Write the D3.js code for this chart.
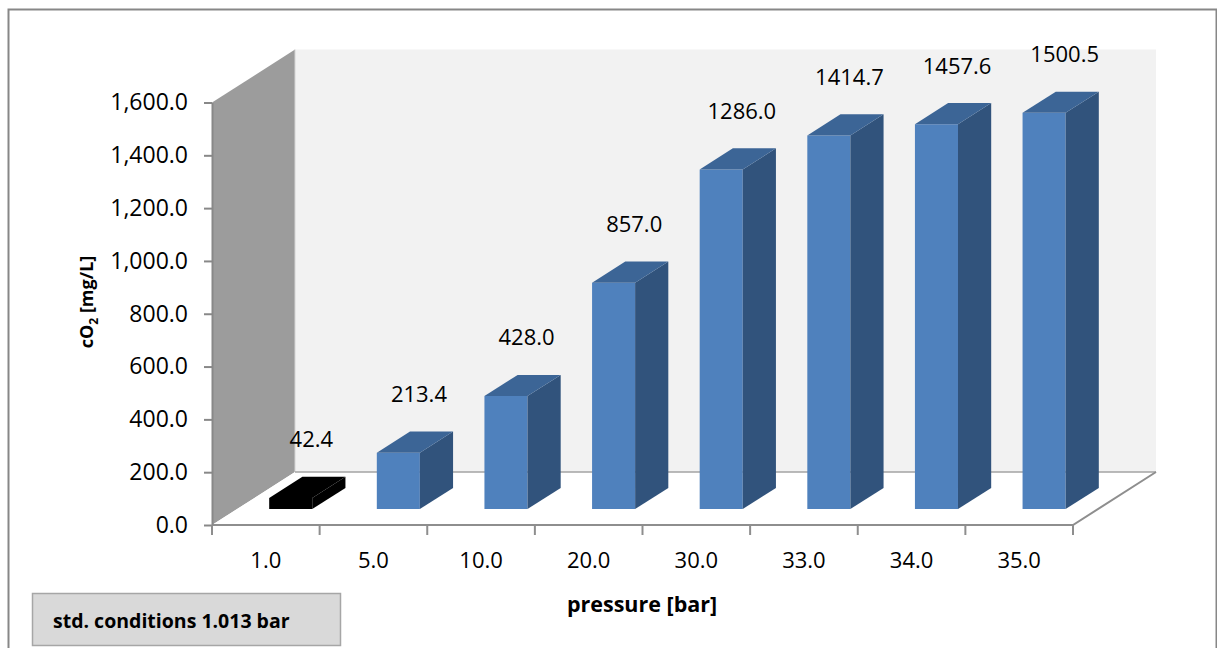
<!DOCTYPE html>
<html>
<head>
<meta charset="utf-8">
<script src="https://cdn.jsdelivr.net/npm/d3@7/dist/d3.min.js"></script>
<style>
  html, body { margin: 0; padding: 0; background: #fff; }
  svg { display: block; font-family: "Open Sans", "Noto Sans", sans-serif; }
</style>
</head>
<body>
<svg id="chart" width="1217" height="648"></svg>
<script>
// CO2 concentration at different pressures
const categories = ["1.0", "5.0", "10.0", "20.0", "30.0", "33.0", "34.0", "35.0"];
const co2Values = [42.4, 213.4, 428.0, 857.0, 1286.0, 1414.7, 1457.6, 1500.5];
const yTicks = [0, 200, 400, 600, 800, 1000, 1200, 1400, 1600];
const referenceCategory = "1.0";   // standard-conditions bar, drawn in black
const noteText = "std. conditions 1.013 bar";

const svg = d3.select("#chart");

// Oblique 3D projection: depth t in [0,1] shifts right and up
const plot = { left: 212, right: 1073, bottom: 525, top: 102.5 };
const depth = { dx: 83, dy: -53 };

const x = d3.scaleBand()
  .domain(categories)
  .range([plot.left, plot.right])
  .paddingInner(0.6)
  .paddingOuter(0.3);

const y = d3.scaleLinear()
  .domain([0, 1600])
  .range([plot.bottom, plot.top]);

const P = (px, v, t) => [px + depth.dx * t, y(v) + depth.dy * t];
const poly = pts => "M" + pts.map(p => p.join(",")).join("L") + "Z";

// Outer chart frame
svg.append("rect")
  .attr("x", 8.5).attr("y", 9.5)
  .attr("width", 1208).attr("height", 700)
  .attr("fill", "#fff")
  .attr("stroke", "#878787").attr("stroke-width", 2);

const [yMin, yMax] = y.domain();

// Back wall
svg.append("path")
  .attr("d", poly([P(plot.left, yMin, 1), P(plot.left, yMax, 1), P(plot.right, yMax, 1), P(plot.right, yMin, 1)]))
  .attr("fill", "#f2f2f2");

// Side wall
svg.append("path")
  .attr("d", poly([P(plot.left, yMin, 0), P(plot.left, yMax, 0), P(plot.left, yMax, 1), P(plot.left, yMin, 1)]))
  .attr("fill", "#9c9c9c");

// Seam between side wall and back wall
svg.append("line")
  .attr("x1", P(plot.left, yMin, 1)[0]).attr("y1", P(plot.left, yMin, 1)[1])
  .attr("x2", P(plot.left, yMax, 1)[0]).attr("y2", P(plot.left, yMax, 1)[1])
  .attr("stroke", "#d4d4d4").attr("stroke-width", 1);

// Floor
svg.append("path")
  .attr("d", poly([P(plot.left, yMin, 0), P(plot.right, yMin, 0), P(plot.right, yMin, 1), P(plot.left, yMin, 1)]))
  .attr("fill", "#ffffff");

// Floor edges
svg.append("path")
  .attr("d", "M" + [P(plot.left, yMin, 1), P(plot.right, yMin, 1)].map(p => p.join(",")).join("L"))
  .attr("fill", "none").attr("stroke", "#a3a3a3").attr("stroke-width", 1.5);
svg.append("path")
  .attr("d", "M" + [P(plot.left, yMin, 0), P(plot.right, yMin, 0), P(plot.right, yMin, 1)].map(p => p.join(",")).join("L"))
  .attr("fill", "none").attr("stroke", "#8e8e8e").attr("stroke-width", 2);

// Y axis
const yAxis = svg.append("g")
  .attr("transform", `translate(${plot.left},0)`)
  .call(d3.axisLeft(y).tickValues(yTicks).tickFormat(d3.format(",.1f")).tickSize(8).tickPadding(16).tickSizeOuter(0));
yAxis.select(".domain").attr("stroke", "#888").attr("stroke-width", 2);
yAxis.selectAll(".tick line").attr("stroke", "#888").attr("stroke-width", 2);
yAxis.selectAll(".tick text")
  .attr("font-size", 23).attr("fill", "#000")
  .attr("font-family", "'Open Sans', sans-serif");

// X axis: ticks at category boundaries, labels centred in each category
const step = x.step();
const boundaries = d3.range(categories.length + 1).map(i => plot.left + i * step);
svg.append("g").selectAll("line")
  .data(boundaries).join("line")
  .attr("x1", d => d).attr("x2", d => d)
  .attr("y1", plot.bottom).attr("y2", plot.bottom + 10)
  .attr("stroke", "#8e8e8e").attr("stroke-width", 2);

svg.append("g").selectAll("text")
  .data(categories).join("text")
  .attr("x", d => plot.left + categories.indexOf(d) * step + step / 2)
  .attr("y", plot.bottom + 43)
  .attr("text-anchor", "middle")
  .attr("font-size", 22).attr("fill", "#000")
  .text(d => d);

// 3D columns
const bars = categories.map((c, i) => ({ category: c, value: co2Values[i] }));
const t0 = 0.3, t1 = 0.7;
const barColours = d => d.category === referenceCategory
  ? { front: "#000000", top: "#000000", side: "#000000" }
  : { front: "#4f81bd", top: "#3c6596", side: "#31537c" };

const barG = svg.append("g").selectAll("g")
  .data(bars).join("g");

barG.each(function(d) {
  const g = d3.select(this);
  const xl = x(d.category), xr = xl + x.bandwidth();
  const col = barColours(d);
  // front face
  g.append("path")
    .attr("d", poly([P(xl, 0, t0), P(xl, d.value, t0), P(xr, d.value, t0), P(xr, 0, t0)]))
    .attr("fill", col.front);
  // right side face
  g.append("path")
    .attr("d", poly([P(xr, 0, t0), P(xr, d.value, t0), P(xr, d.value, t1), P(xr, 0, t1)]))
    .attr("fill", col.side);
  // top face
  g.append("path")
    .attr("d", poly([P(xl, d.value, t0), P(xl, d.value, t1), P(xr, d.value, t1), P(xr, d.value, t0)]))
    .attr("fill", col.top);
});

// Value labels above each column
svg.append("g").selectAll("text")
  .data(bars).join("text")
  .attr("x", d => P(x(d.category) + x.bandwidth() / 2, d.value, 0.5)[0] + 4)
  .attr("y", d => P(x(d.category) + x.bandwidth() / 2, d.value, 0.5)[1] - 40)
  .attr("text-anchor", "middle")
  .attr("font-size", 22).attr("fill", "#000")
  .text(d => d.value.toFixed(1));

// Axis titles
const yTitle = svg.append("text")
  .attr("transform", "translate(93,302) rotate(-90)")
  .attr("text-anchor", "middle")
  .attr("font-size", 18).attr("font-weight", "bold").attr("fill", "#000");
yTitle.append("tspan").text("cO");
yTitle.append("tspan").attr("font-size", 12).attr("dy", 5).text("2");
yTitle.append("tspan").attr("dy", -5).text(" [mg/L]");

svg.append("text")
  .attr("x", 642).attr("y", 612)
  .attr("text-anchor", "middle")
  .attr("font-size", 21.5).attr("font-weight", "bold").attr("fill", "#000")
  .text("pressure [bar]");

// Note box
svg.append("rect")
  .attr("x", 32.5).attr("y", 593.5)
  .attr("width", 308).attr("height", 52)
  .attr("fill", "#d9d9d9").attr("stroke", "#a6a6a6").attr("stroke-width", 1.5);
svg.append("text")
  .attr("x", 53).attr("y", 628)
  .attr("font-size", 19.5).attr("font-weight", "bold").attr("fill", "#000")
  .text(noteText);
</script>
</body>
</html>
